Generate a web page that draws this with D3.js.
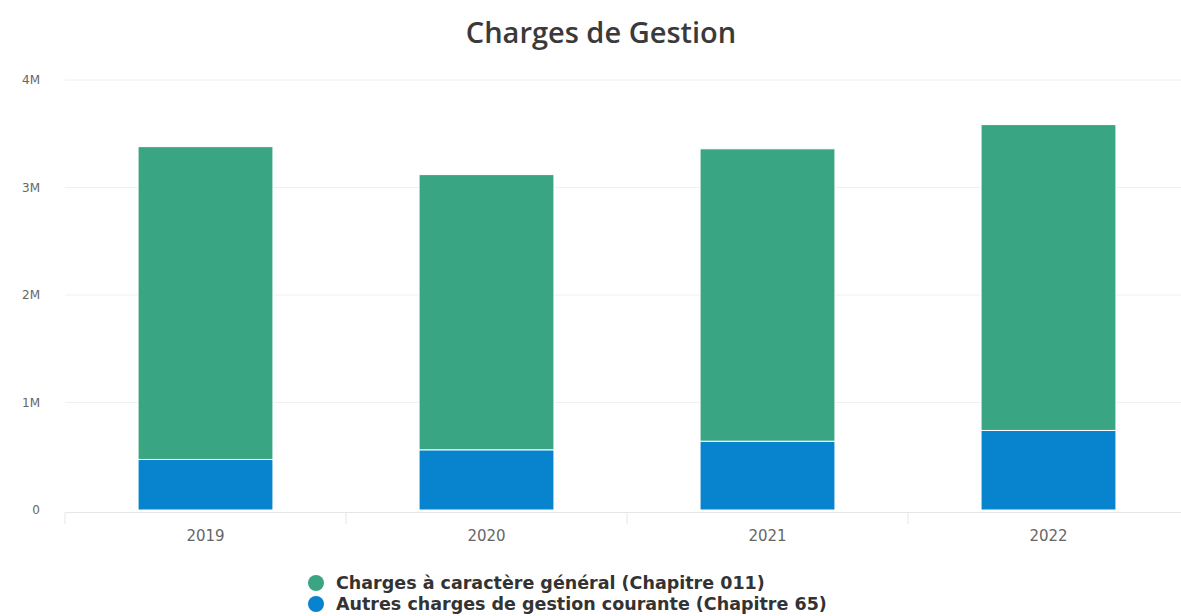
<!DOCTYPE html>
<html><head><meta charset="utf-8">
<script src="https://cdn.jsdelivr.net/npm/d3@7/dist/d3.min.js"></script>
<style>body{margin:0;background:#fff;font-family:"Open Sans",sans-serif}</style>
</head><body><svg id="c" width="1181" height="616"></svg>
<script>
const categories = ["2019","2020","2021","2022"];
const seriesNames = ["Charges à caractère général (Chapitre 011)","Autres charges de gestion courante (Chapitre 65)"];
const chapitre011 = [2910000,2560000,2720000,2845000];
const chapitre65 = [470000,560000,640000,740000];
const yTicks = [0,1000000,2000000,3000000,4000000];
const yTickLabels = ["0","1M","2M","3M","4M"];
const colors = ["#3aa583","#0784cd"];

const svg = d3.select("#c");
const x = d3.scaleBand().domain(categories).range([65,1189]).paddingInner(0.52).paddingOuter(0.26);
const y = d3.scaleLinear().domain([0,4000000]).range([510,80]);

svg.append("text").attr("x",601).attr("y",43).attr("text-anchor","middle")
  .style("font-size","29px").style("font-weight","600").style("fill","#3a3a3a").text("Charges de Gestion");

// grid
svg.append("g").selectAll("line").data(yTicks.slice(1)).join("line")
  .attr("x1",65).attr("x2",1181).attr("y1",d=>y(d)).attr("y2",d=>y(d))
  .attr("stroke","#f0f0f0").attr("stroke-width",1);

// y labels
svg.append("g").selectAll("text").data(yTicks).join("text")
  .attr("x",40).attr("y",d=>y(d)+4).attr("text-anchor","end")
  .style("font-family","DejaVu Sans, sans-serif")
  .style("font-size","12px").style("fill","#666").text((d,i)=>yTickLabels[i]);

// x axis
const xAxis = d3.axisBottom(x).tickSize(0).tickPadding(18);
const gx = svg.append("g").attr("transform","translate(0,512)").call(xAxis);
gx.select(".domain").attr("stroke","#e6e6ea");
gx.selectAll("text").style("font-size","15px").style("fill","#666").style("font-family","DejaVu Sans, sans-serif");
const bounds = [65].concat(categories.map(c=>x(c)+x.bandwidth()+x.step()*0.26));
svg.append("g").selectAll("line").data(bounds).join("line")
  .attr("x1",d=>d).attr("x2",d=>d).attr("y1",512).attr("y2",524)
  .attr("stroke","#e6e6ea");

// stacked bars
const rows = categories.map((c,i)=>({cat:c, s0:chapitre65[i], s1:chapitre011[i]}));
const stack = d3.stack().keys(["s0","s1"])(rows);
const colorByKey = {s0:colors[1], s1:colors[0]};
svg.append("g").selectAll("g").data(stack).join("g").attr("fill",d=>colorByKey[d.key])
  .selectAll("rect").data(d=>d).join("rect")
  .attr("x",d=>x(d.data.cat)).attr("width",x.bandwidth())
  .attr("y",d=>y(d[1])).attr("height",d=>y(d[0])-y(d[1]))
  .attr("stroke","#fff").attr("stroke-width",1);

// legend
const lg = svg.append("g");
seriesNames.forEach((n,i)=>{
  const yy = 583 + i*21;
  lg.append("circle").attr("cx",316).attr("cy",yy).attr("r",8).attr("fill",colors[i]);
  lg.append("text").attr("x",336).attr("y",yy+6).style("font-family","DejaVu Sans, sans-serif")
    .style("font-size","17.5px").style("font-weight","bold")
    .style("fill","#333").text(n);
});
</script></body></html>
